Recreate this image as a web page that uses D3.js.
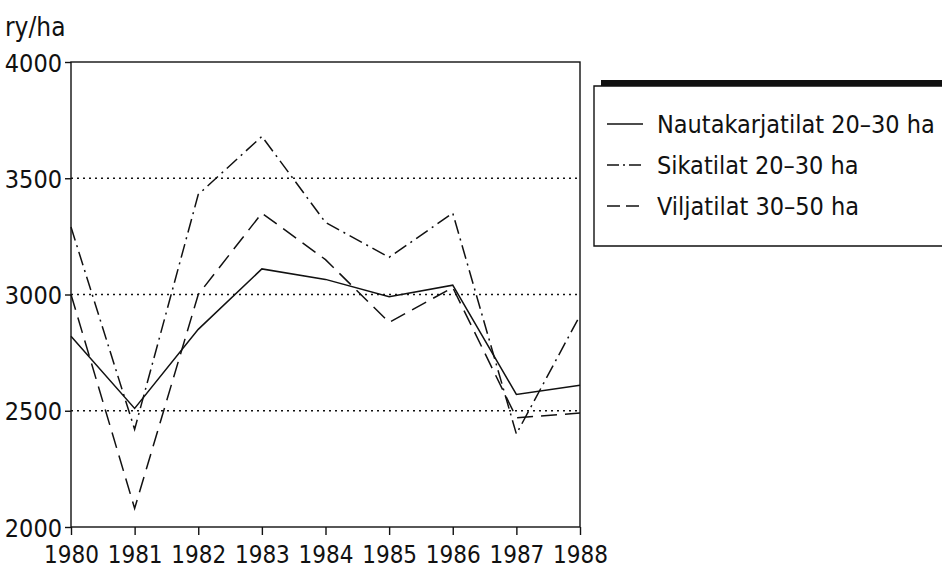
<!DOCTYPE html>
<html>
<head>
<meta charset="utf-8">
<script src="https://cdn.jsdelivr.net/npm/d3@7"></script>
<style>
  body { margin: 0; background: #fff; }
  text { font-family: "DejaVu Sans Condensed", "DejaVu Sans", sans-serif; font-stretch: condensed; fill: #111; }
</style>
</head>
<body>
<svg id="chart" width="942" height="578"></svg>
<script>
// DATA
const years = [1980, 1981, 1982, 1983, 1984, 1985, 1986, 1987, 1988];
const nautakarja = [2820, 2510, 2850, 3110, 3065, 2990, 3040, 2570, 2610];
const sikatilat = [3290, 2420, 3430, 3680, 3310, 3160, 3350, 2400, 2910];
const viljatilat = [3000, 2080, 3000, 3350, 3150, 2880, 3030, 2470, 2490];
const yTicks = [2000, 2500, 3000, 3500, 4000];
const gridValues = [2500, 3000, 3500];
const seriesNames = ["Nautakarjatilat 20\u201330 ha", "Sikatilat 20\u201330 ha", "Viljatilat 30\u201350 ha"];

const series = [
  { name: seriesNames[0], values: nautakarja, dash: null },
  { name: seriesNames[1], values: sikatilat, dash: "14,5,2,5" },
  { name: seriesNames[2], values: viljatilat, dash: "16,8" },
];

// CANVAS SETUP
const svg = d3.select("#chart");
const margin = { top: 62, right: 362, bottom: 51, left: 71 };
const width = 942 - margin.left - margin.right,
  height = 578 - margin.top - margin.bottom;

const g = svg.append("g").attr("transform", `translate(${margin.left},${margin.top})`);

const x = d3.scaleLinear().domain([1980, 1988]).range([0, width]);
const y = d3.scaleLinear().domain([2000, 4000]).range([height, 0]);

// grid
g.selectAll(".grid")
  .data(gridValues)
  .join("line")
  .attr("x1", 0)
  .attr("x2", width)
  .attr("y1", (d) => y(d))
  .attr("y2", (d) => y(d))
  .attr("stroke", "#111")
  .attr("stroke-width", 1.6)
  .attr("stroke-dasharray", "2,4");

// frame
g.append("rect")
  .attr("width", width)
  .attr("height", height)
  .attr("fill", "none")
  .attr("stroke", "#111")
  .attr("stroke-width", 1.4);

// axes
const yAxis = d3.axisLeft(y).tickValues(yTicks).tickSize(6).tickPadding(3).tickFormat(d3.format("d"));
const gy = g.append("g").call(yAxis);
gy.select(".domain").remove();
gy.selectAll("text").style("font-size", "25px").attr("dy", "0.36em");
gy.selectAll("line").attr("stroke", "#111").attr("stroke-width", 1.4);

const xAxis = d3.axisBottom(x).tickValues(years).tickSize(8).tickPadding(11).tickFormat(d3.format("d"));
const gx = g.append("g").attr("transform", `translate(0,${height})`).call(xAxis);
gx.select(".domain").remove();
gx.selectAll("text").style("font-size", "24px");
gx.selectAll("line").attr("stroke", "#111").attr("stroke-width", 1.4);

// unit label
svg.append("text").attr("x", 5).attr("y", 36).style("font-size", "26px").text("ry/ha");

// lines
const line = d3
  .line()
  .x((d, i) => x(years[i]))
  .y((d) => y(d));

g.selectAll(".series")
  .data(series)
  .join("path")
  .attr("d", (d) => line(d.values))
  .attr("fill", "none")
  .attr("stroke", "#111")
  .attr("stroke-width", 1.5)
  .attr("stroke-dasharray", (d) => d.dash);

// LEGEND
const lg = svg.append("g").attr("transform", "translate(594,86)");
lg.append("rect").attr("x", 7).attr("y", -6).attr("width", 360).attr("height", 6).attr("fill", "#111");
lg.append("path")
  .attr("d", "M360,0 H0 V160 H360")
  .attr("fill", "none")
  .attr("stroke", "#111")
  .attr("stroke-width", 1.4);

const items = lg
  .selectAll(".item")
  .data(series)
  .join("g")
  .attr("transform", (d, i) => `translate(0,${38 + i * 41})`);

items
  .append("line")
  .attr("x1", 13)
  .attr("x2", 49)
  .attr("stroke", "#111")
  .attr("stroke-width", 1.5)
  .attr("stroke-dasharray", (d, i) => (i === 1 ? "12,4,2,4" : i === 2 ? "13,6" : null));

items
  .append("text")
  .attr("x", 63)
  .attr("dy", "0.36em")
  .style("font-size", "25px")
  .text((d) => d.name);
</script>
</body>
</html>
